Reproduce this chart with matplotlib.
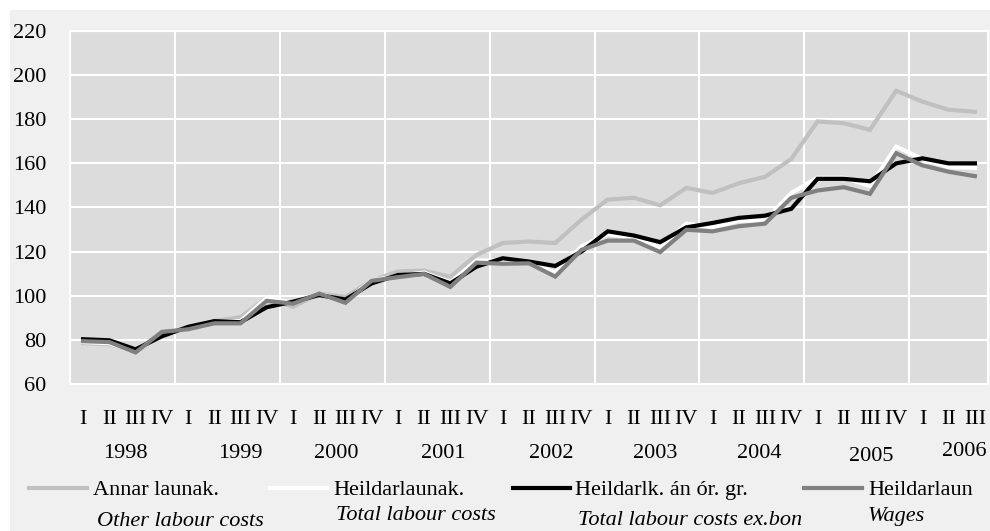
import matplotlib
matplotlib.use("Agg")
import matplotlib.pyplot as plt
from matplotlib.patches import Rectangle
from matplotlib.lines import Line2D

quarter_labels = ["I", "II", "III", "IV"] * 8 + ["I", "II", "III"]
years = ["1998", "1999", "2000", "2001", "2002", "2003", "2004", "2005", "2006"]

annar = [78.5, 78, 75, 83, 85, 88.5, 90.3, 99, 95, 101, 99.5, 106.8, 111, 111.4, 108.6,
         118.5, 123.9, 124.6, 123.9, 134.5, 143.6, 144.4, 141, 148.9, 146.6, 151, 153.9,
         162, 179, 178.2, 175.2, 192.9, 188, 184.3, 183.4]
heildarlaunak = [79, 78.5, 74.5, 83, 85, 88, 88.5, 99, 97, 101, 97.5, 107, 109, 110.5, 106,
                 116, 116, 115, 110.5, 122.3, 128, 126, 122, 132.7, 131, 134, 134,
                 146.6, 153.5, 153.5, 149.7, 167.6, 162, 158.3, 158]
heildarlk_an = [80.3, 79.8, 75.7, 81.6, 85.9, 88.5, 88, 94.8, 97.3, 100.3, 98.3, 105.6, 109.4,
                109.9, 105.6, 113.2, 117, 115.5, 113.5, 120, 129.2, 127.3, 124.3, 131, 133,
                135.3, 136.3, 139.4, 153, 153, 151.9, 160, 162.3, 160, 160]
heildarlaun = [79.4, 79, 74.3, 83.6, 84.8, 87.5, 87.5, 97.7, 96.4, 101, 96.8, 106.8, 108.4,
               109.9, 104, 115, 114.5, 114.7, 108.7, 120.8, 125, 125, 119.8, 129.9, 129.2,
               131.5, 132.7, 144.4, 147.7, 149.2, 146.2, 164.6, 159.1, 156.2, 154.2]

series_names = ["Annar launak.", "Heildarlaunak.", "Heildarlk. án ór. gr.", "Heildarlaun"]
series_en = ["Other labour costs", "Total labour costs", "Total labour costs ex.bon", "Wages"]
series_vals = [annar, heildarlaunak, heildarlk_an, heildarlaun]
colors = ["#C0C0C0", "#FFFFFF", "#000000", "#808080"]

# layout-only tweaks
year_x_shift = [0.1, 0.5, 0.14, 0.22, 0.34, 0.3, 0.27, 0.54, 0.58]
year_y_px = [458, 458, 458, 458, 458, 458, 458, 461, 456]
leg_line_x = [(29, 87), (270, 327), (513, 570), (804, 862)]
leg_text_x = [93, 333, 575, 868]
leg_it_x = [97, 336, 578, 868]
leg_it_base = [526, 520, 525, 521]

plt.rcParams["font.family"] = ["Liberation Serif", "DejaVu Serif"]
W, H = 990, 531
fig = plt.figure(figsize=(W / 100, H / 100), dpi=100, facecolor="white")
fig.patches.append(Rectangle((10 / W, 0), 1 - 10 / W, 1 - 10 / H, transform=fig.transFigure,
                             facecolor="#F0F0F0", edgecolor="none", zorder=-10))

left, right, top, bottom = 70, 988, 31, 384
ax = fig.add_axes([left / W, 1 - bottom / H, (right - left) / W, (bottom - top) / H])
ax.set_facecolor("#DCDCDC")
n = len(annar)
x = list(range(n))
for vals, c in zip(series_vals, colors):
    ax.plot(x, vals, color=c, lw=3.0, solid_joinstyle="miter", zorder=3)

ax.set_xlim(-0.5, n - 0.5)
ax.set_ylim(60, 220)
ax.set_yticks(range(60, 221, 20))
ax.tick_params(axis="y", length=0, pad=17, labelsize=16)
ax.set_xticks([])
for yv in range(60, 221, 20):
    ax.axhline(yv, color="white", lw=1.5, zorder=1)
for k in range(1, 9):
    ax.axvline(4 * k - 0.5, color="white", lw=1.5, zorder=1)
for s in ax.spines.values():
    s.set_color("white")
    s.set_linewidth(1.5)

ah = bottom - top
def ay(px):
    return (bottom - px) / ah

tr = ax.get_xaxis_transform()
for i, q in enumerate(quarter_labels):
    ax.text(i, ay(424), q, transform=tr, ha="center", va="baseline", fontsize=16, clip_on=False)
for k, yr in enumerate(years):
    qs = [i for i in range(n) if i // 4 == k]
    cx = (qs[0] + qs[-1]) / 2 + year_x_shift[k]
    ax.text(cx, ay(year_y_px[k]), yr, transform=tr, ha="center", va="baseline", fontsize=16,
            clip_on=False)

def fx(px):
    return px / W
def fy(px):
    return 1 - px / H

for k in range(4):
    x0, x1 = leg_line_x[k]
    fig.add_artist(Line2D([fx(x0), fx(x1)], [fy(488), fy(488)], transform=fig.transFigure,
                          color=colors[k], lw=3.0))
    fig.text(fx(leg_text_x[k]), fy(495), series_names[k], ha="left", va="baseline", fontsize=16)
    fig.text(fx(leg_it_x[k]), fy(leg_it_base[k]), series_en[k], ha="left", va="baseline",
             fontsize=16, style="italic")

fig.savefig("out.png", dpi=100, facecolor=fig.get_facecolor())
